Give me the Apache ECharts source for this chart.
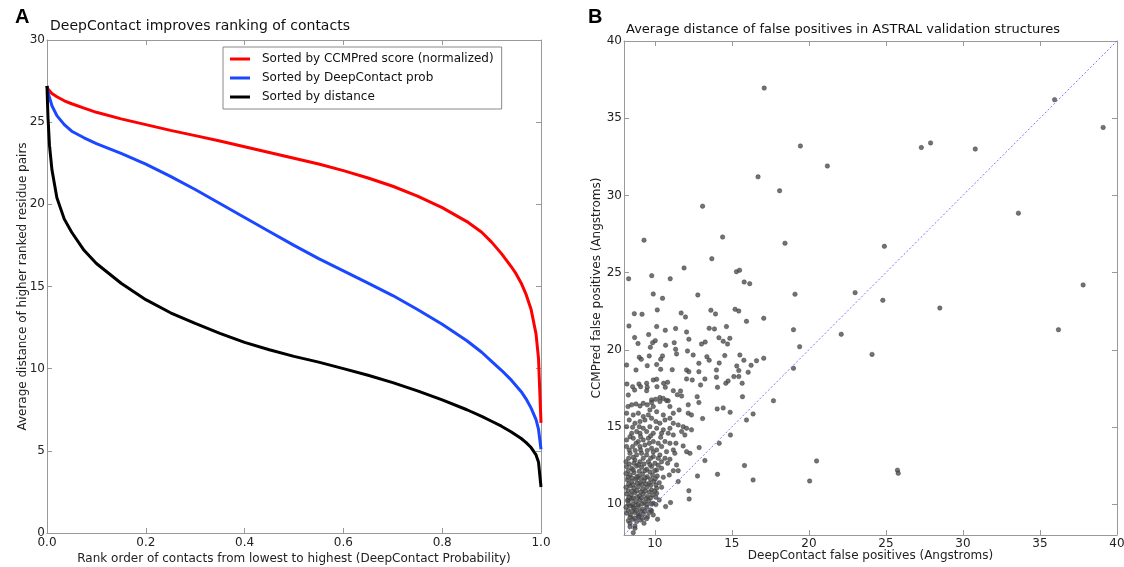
<!DOCTYPE html>
<html>
<head>
<meta charset="utf-8">
<script src="https://cdn.jsdelivr.net/npm/echarts@6/dist/echarts.min.js"></script>
<style>
  html, body { margin: 0; padding: 0; background: #fff; }
  #main { width: 1124px; height: 567px; }
</style>
</head>
<body>
<div id="main"></div>
<script>
// panel A: rank order (x) and average distance of the three sortings
var rankOrder = [0, 0.001, 0.002, 0.005, 0.01, 0.02, 0.035, 0.05, 0.075, 0.1, 0.15, 0.2, 0.25, 0.3, 0.35, 0.4, 0.45, 0.5, 0.55, 0.6, 0.65, 0.7, 0.75, 0.8, 0.85, 0.88, 0.9, 0.92, 0.94, 0.95, 0.96, 0.97, 0.98, 0.99, 0.995, 1.0];
var byCcmpred = [27.2, 27.1, 27.02, 26.9, 26.75, 26.55, 26.3, 26.12, 25.85, 25.6, 25.2, 24.85, 24.5, 24.18, 23.85, 23.5, 23.15, 22.8, 22.45, 22.05, 21.6, 21.1, 20.5, 19.8, 18.95, 18.3, 17.7, 17.0, 16.2, 15.75, 15.2, 14.5, 13.6, 12.1, 10.6, 6.7];
var byDeepContact = [27.2, 27.0, 26.85, 26.5, 26.0, 25.4, 24.85, 24.45, 24.05, 23.7, 23.1, 22.45, 21.7, 20.9, 20.05, 19.2, 18.35, 17.5, 16.7, 15.95, 15.2, 14.45, 13.6, 12.7, 11.7, 11.0, 10.45, 9.9, 9.3, 8.95, 8.6, 8.15, 7.6, 6.9, 6.3, 5.1];
var byDistance = [27.2, 26.2, 25.3, 23.6, 22.1, 20.4, 19.1, 18.3, 17.2, 16.4, 15.2, 14.2, 13.4, 12.75, 12.15, 11.6, 11.15, 10.75, 10.4, 10.0, 9.6, 9.15, 8.65, 8.1, 7.5, 7.1, 6.8, 6.5, 6.15, 5.95, 5.75, 5.5, 5.2, 4.75, 4.3, 2.8];

// panel B: [DeepContact FP distance, CCMPred FP distance] per structure
var falsePositives = [
  [17.1, 36.95], [19.45, 33.2], [21.2, 31.9], [16.7, 31.2], [18.1, 30.3], [13.1, 29.3],
  [9.3, 27.1], [14.4, 27.3], [18.45, 26.9], [13.7, 25.9], [11.9, 25.3], [15.3, 25.06],
  [15.5, 25.15], [8.3, 24.6], [9.8, 24.8], [11.0, 24.6], [35.95, 36.2], [39.1, 34.4],
  [27.3, 33.1], [27.9, 33.4], [30.8, 33.0], [33.6, 28.85], [24.9, 26.7], [24.8, 23.2],
  [28.5, 22.7], [37.8, 24.2], [36.2, 21.3], [23.0, 23.7], [22.1, 21.0], [24.1, 19.7],
  [19.4, 20.2], [19.0, 18.8], [19.0, 21.3], [19.1, 23.6], [17.7, 16.7], [20.5, 12.8],
  [20.05, 11.5], [25.75, 12.2], [25.8, 12.0],
  [15.8, 24.39], [16.16, 24.28], [9.9, 23.61], [10.5, 23.33], [12.79, 23.55],
  [8.67, 22.34], [9.17, 22.3], [10.16, 22.58], [11.71, 22.38], [11.99, 22.12], [13.64, 22.56],
  [13.94, 22.32], [15.21, 22.62], [15.45, 22.51], [15.95, 21.84], [17.07, 22.04], [8.32, 21.54],
  [10.12, 21.5], [10.68, 21.26], [11.35, 21.37], [12.06, 21.15], [13.53, 21.39], [13.87, 21.35],
  [14.65, 21.5], [8.69, 20.79], [8.91, 20.4], [9.6, 20.98], [9.86, 20.46], [9.71, 20.16],
  [10.03, 20.59], [10.7, 20.29], [11.26, 20.46], [12.21, 20.68], [13.03, 20.37], [13.27, 20.5],
  [14.16, 20.78], [14.44, 20.55], [14.87, 20.74], [14.72, 20.37], [8.99, 19.51], [9.12, 19.38],
  [9.64, 19.6], [10.5, 19.6], [10.38, 19.38], [11.35, 20.03], [11.41, 19.73], [12.12, 19.92],
  [12.49, 19.66], [12.86, 19.12], [13.38, 19.55], [13.53, 19.32], [14.18, 19.14], [14.54, 19.62],
  [15.52, 19.66], [15.78, 19.32], [16.6, 19.29], [17.07, 19.45], [8.17, 19.01], [8.78, 18.69],
  [9.51, 18.97], [10.12, 19.04], [10.38, 18.73], [11.13, 18.71], [12.06, 18.69], [12.21, 18.58],
  [12.86, 18.58], [14.0, 18.69], [15.32, 18.95], [15.45, 18.65], [16.06, 18.54], [16.25, 18.99],
  [8.19, 17.78], [8.56, 17.61], [8.69, 17.39], [8.97, 17.78], [9.08, 17.61], [9.47, 17.83],
  [9.51, 17.57], [9.47, 17.35], [9.9, 18.04], [10.12, 18.09], [10.57, 17.83], [10.68, 17.57],
  [10.14, 17.61], [10.83, 17.89], [11.2, 17.35], [11.46, 17.09], [11.67, 17.33], [12.06, 18.11],
  [12.43, 18.04], [12.97, 17.72], [13.25, 18.11], [14.0, 18.22], [14.07, 17.57], [14.61, 17.83],
  [14.76, 17.98], [15.13, 18.26], [15.45, 18.26], [15.67, 17.83], [8.28, 17.07], [9.79, 16.75],
  [10.05, 16.79], [10.33, 16.9], [10.55, 16.85], [10.76, 16.72], [11.74, 17.0], [12.75, 16.96],
  [15.69, 16.96],
  [8.5, 16.43], [8.78, 16.49], [9.04, 16.36], [9.25, 16.53], [9.51, 16.43], [9.79, 16.58],
  [9.9, 16.32], [10.33, 16.64], [10.87, 16.69], [10.98, 16.32], [11.58, 16.1], [12.17, 16.43],
  [12.86, 16.58], [14.05, 16.17], [14.44, 16.23], [14.89, 15.95], [16.38, 15.84], [15.95, 15.45],
  [12.17, 15.89], [12.38, 15.78], [13.1, 15.54], [11.2, 15.89], [10.55, 15.78], [10.12, 15.99],
  [9.68, 16.1], [8.6, 15.78], [8.93, 15.89], [9.25, 15.67], [9.58, 15.78],
  [8.34, 15.45], [8.71, 15.24], [9.04, 15.35], [9.36, 15.45], [9.79, 15.56], [10.07, 15.35],
  [10.33, 15.24], [10.66, 15.45], [10.98, 15.56], [11.2, 15.24], [11.52, 15.13], [11.84, 15.02],
  [11.74, 14.7], [12.06, 14.91], [12.38, 14.81], [10.98, 14.91], [10.55, 14.81], [10.12, 14.91],
  [9.68, 15.02], [9.25, 14.91], [8.82, 14.7], [8.5, 14.59], [9.04, 14.59], [9.47, 14.7],
  [9.9, 14.59], [10.44, 14.59], [10.87, 14.59], [11.2, 14.48], [11.95, 14.48], [14.91, 14.48],
  [14.18, 13.94], [12.88, 13.66], [11.37, 13.94], [11.84, 13.77],
  [8.17, 14.16], [8.6, 14.27], [8.93, 14.05], [9.25, 14.16], [9.58, 14.27], [9.9, 14.05],
  [10.22, 13.94], [10.66, 14.05], [10.98, 13.94], [8.56, 13.73], [9.04, 13.73], [9.36, 13.83],
  [9.79, 13.62], [10.12, 13.51], [10.44, 13.73], [10.76, 13.4], [11.2, 13.51], [12.06, 13.4],
  [12.28, 13.29], [11.3, 13.29], [8.39, 13.29], [8.82, 13.19], [9.14, 13.29], [9.47, 13.19],
  [9.9, 13.08], [10.33, 13.19], [10.66, 12.97], [10.98, 12.91], [8.13, 12.75], [8.71, 12.86],
  [9.04, 12.75], [9.58, 12.75], [10.01, 12.65], [10.44, 12.75], [10.83, 12.65], [13.25, 12.82],
  [11.41, 12.54], [11.2, 12.17], [11.52, 12.17], [10.94, 11.89], [11.52, 11.46], [12.77, 11.82],
  [14.07, 11.93], [15.82, 12.5], [16.38, 11.57], [12.21, 10.87], [12.23, 10.33], [11.02, 10.1],
  [10.7, 9.84], [10.18, 9.02], [9.79, 9.56], [9.3, 8.76], [8.71, 8.43], [8.39, 8.76],
  [8.93, 9.3], [8.28, 10.27], [8.6, 9.84],
  [8.17, 12.43], [8.5, 12.32], [8.82, 12.47], [9.14, 12.39], [9.47, 12.26], [9.79, 12.43],
  [10.12, 12.21], [10.44, 12.32], [8.13, 11.99], [8.39, 11.89], [8.65, 12.04], [8.93, 11.82],
  [9.21, 11.95], [9.51, 11.78], [9.86, 11.89], [10.16, 11.82], [10.55, 11.74], [8.22, 11.57],
  [8.5, 11.46], [8.78, 11.61], [9.04, 11.39], [9.3, 11.52], [9.64, 11.35], [9.94, 11.46],
  [10.29, 11.39], [8.13, 11.09], [8.39, 11.18], [8.65, 11.03], [8.93, 11.13], [9.21, 10.96],
  [9.47, 11.09], [9.79, 10.92], [10.12, 11.03], [10.44, 11.09], [8.17, 10.66], [8.45, 10.59],
  [8.71, 10.74], [8.99, 10.53], [9.25, 10.66], [9.53, 10.49], [9.84, 10.59], [10.12, 10.7],
  [8.22, 10.23], [8.5, 10.31], [8.78, 10.16], [9.04, 10.27], [9.32, 10.1], [9.6, 10.23],
  [9.9, 10.05], [10.29, 10.27], [8.13, 9.8], [8.39, 9.88], [8.65, 9.73], [8.93, 9.84],
  [9.19, 9.67], [9.47, 9.8], [9.73, 9.62], [8.17, 9.41], [8.43, 9.3], [8.71, 9.45],
  [8.99, 9.23], [9.25, 9.36], [9.53, 9.19], [9.9, 9.3], [8.28, 8.93], [8.56, 9.02],
  [8.82, 8.87], [9.08, 8.97], [8.39, 8.54], [8.71, 8.59], [8.6, 8.15],
  [8.28, 12.17], [8.6, 12.21], [8.99, 12.13], [9.36, 12.17], [9.68, 12.08], [9.99, 12.17],
  [8.26, 11.74], [8.52, 11.7], [8.82, 11.74], [9.08, 11.67], [9.38, 11.7], [9.73, 11.61],
  [10.03, 11.65], [8.3, 11.31], [8.6, 11.26], [8.86, 11.35], [9.17, 11.26], [9.42, 11.31],
  [9.73, 11.22], [10.07, 11.24], [8.26, 10.87], [8.52, 10.83], [8.82, 10.87], [9.08, 10.79],
  [9.38, 10.83], [9.64, 10.79], [9.99, 10.83], [8.32, 10.44], [8.6, 10.4], [8.86, 10.44],
  [9.14, 10.4], [9.42, 10.36], [9.73, 10.4], [10.07, 10.44], [8.3, 10.01], [8.6, 10.01],
  [8.91, 9.97], [9.17, 10.01], [9.47, 9.97], [9.77, 10.01], [10.07, 9.97], [8.26, 9.58],
  [8.52, 9.54], [8.82, 9.58], [9.08, 9.54], [9.38, 9.54], [9.64, 9.45], [8.39, 9.15],
  [8.69, 9.1], [8.95, 9.15], [9.21, 9.08], [9.47, 9.06],
  [8.34, 12.6], [8.65, 12.65], [8.95, 12.56], [9.3, 12.6], [9.68, 12.56], [10.22, 12.52],
  [8.34, 13.51], [8.73, 13.47], [9.08, 13.51], [9.51, 13.47], [9.9, 13.38], [8.17, 13.73],
  [8.3, 12.97], [8.6, 13.03], [9.25, 12.97], [9.73, 12.97], [10.22, 12.97],
  [8.39, 14.37], [9.08, 14.37], [9.73, 14.42], [10.38, 14.33], [8.78, 13.94], [9.64, 13.94],
  [8.17, 15.02], [8.56, 14.98], [8.99, 15.02], [8.17, 15.89], [8.26, 16.32]
];
var diagonal = [[8, 8], [40, 40]];

var fontFamily = '"DejaVu Sans", sans-serif';
var frameColor = '#999';
var chart = echarts.init(document.getElementById('main'));

function frameAxis(grid, pos, min, max, extra) {
    var axis = {
        gridIndex: grid,
        type: 'value',
        position: pos,
        min: min,
        max: max,
        nameMoveOverlap: false,
        axisLine: { show: true, onZero: false, lineStyle: { color: frameColor, width: 1 } },
        axisTick: { show: true, inside: true, length: 5, lineStyle: { color: frameColor } },
        axisLabel: { show: false },
        splitLine: { show: false }
    };
    for (var k in extra) axis[k] = extra[k];
    return axis;
}

var nameStyle = { color: '#222', fontSize: 12, fontFamily: fontFamily };
var bTicks = [10, 15, 20, 25, 30, 35, 40];

var option = {
    animation: false,
    backgroundColor: '#fff',
    textStyle: { fontFamily: fontFamily },
    title: [
        { text: 'A', left: 10, top: 2, textStyle: { fontSize: 20, fontWeight: 'bold', color: '#000', fontFamily: 'Liberation Sans, sans-serif' } },
        { text: 'DeepContact improves ranking of contacts', left: 45, top: 14, textStyle: { fontSize: 14, fontWeight: 'normal', color: '#111', fontFamily: fontFamily } },
        { text: 'B', left: 583, top: 2, textStyle: { fontSize: 20, fontWeight: 'bold', color: '#000', fontFamily: 'Liberation Sans, sans-serif' } },
        { text: 'Average distance of false positives in ASTRAL validation structures', left: 621, top: 18, textStyle: { fontSize: 13, fontWeight: 'normal', color: '#111', fontFamily: fontFamily } }
    ],
    legend: {
        left: 223,
        top: 47,
        orient: 'vertical',
        icon: 'rect',
        itemWidth: 20,
        itemHeight: 3,
        itemGap: 7,
        padding: [6, 8, 6, 7],
        borderColor: '#888',
        borderWidth: 1,
        borderRadius: 0,
        textStyle: { fontSize: 12, color: '#111', fontFamily: fontFamily, padding: [0, 0, 0, 7] },
        data: ['Sorted by CCMPred score (normalized)', 'Sorted by DeepContact prob', 'Sorted by distance']
    },
    grid: [
        { left: 47, right: 583, top: 40, bottom: 34, outerBoundsMode: 'none', containLabel: false },
        { left: 624, right: 7, top: 41, bottom: 32, outerBoundsMode: 'none', containLabel: false }
    ],
    xAxis: [
        frameAxis(0, 'bottom', 0, 1, {
            interval: 0.2,
            axisLabel: { show: true, color: '#222', fontSize: 12, fontFamily: fontFamily, margin: 4,
                formatter: function (v) { return v.toFixed(1); } },
            name: 'Rank order of contacts from lowest to highest (DeepContact Probability)',
            nameLocation: 'middle',
            nameGap: 20,
            nameTextStyle: nameStyle
        }),
        frameAxis(0, 'top', 0, 1, { interval: 0.2 }),
        frameAxis(1, 'bottom', 8, 40, {
            axisTick: { show: true, inside: true, length: 5, lineStyle: { color: frameColor }, customValues: bTicks },
            axisLabel: { show: true, color: '#222', fontSize: 12, fontFamily: fontFamily, margin: 3, customValues: bTicks },
            name: 'DeepContact false positives (Angstroms)',
            nameLocation: 'middle',
            nameGap: 15,
            nameTextStyle: nameStyle
        }),
        frameAxis(1, 'top', 8, 40, {
            axisTick: { show: true, inside: true, length: 5, lineStyle: { color: frameColor }, customValues: bTicks }
        })
    ],
    yAxis: [
        frameAxis(0, 'left', 0, 30, {
            interval: 5,
            axisLabel: { show: true, color: '#222', fontSize: 12, fontFamily: fontFamily, margin: 2 },
            name: 'Average distance of higher ranked residue pairs',
            nameLocation: 'middle',
            nameGap: 18,
            nameTextStyle: nameStyle
        }),
        frameAxis(0, 'right', 0, 30, { interval: 5 }),
        frameAxis(1, 'left', 8, 40, {
            axisTick: { show: true, inside: true, length: 5, lineStyle: { color: frameColor }, customValues: bTicks },
            axisLabel: { show: true, color: '#222', fontSize: 12, fontFamily: fontFamily, margin: 2, customValues: bTicks },
            name: 'CCMPred false positives (Angstroms)',
            nameLocation: 'middle',
            nameGap: 21,
            nameTextStyle: nameStyle
        }),
        frameAxis(1, 'right', 8, 40, {
            axisTick: { show: true, inside: true, length: 5, lineStyle: { color: frameColor }, customValues: bTicks }
        })
    ],
    series: [
        {
            name: 'Sorted by CCMPred score (normalized)',
            type: 'line', xAxisIndex: 0, yAxisIndex: 0,
            showSymbol: false,
            color: '#ff0000', lineStyle: { width: 3, color: '#ff0000' },
            data: rankOrder.map(function (x, i) { return [x, byCcmpred[i]]; })
        },
        {
            name: 'Sorted by DeepContact prob',
            type: 'line', xAxisIndex: 0, yAxisIndex: 0,
            showSymbol: false,
            color: '#1a47ff', lineStyle: { width: 3, color: '#1a47ff' },
            data: rankOrder.map(function (x, i) { return [x, byDeepContact[i]]; })
        },
        {
            name: 'Sorted by distance',
            type: 'line', xAxisIndex: 0, yAxisIndex: 0,
            showSymbol: false,
            color: '#000000', lineStyle: { width: 3, color: '#000000' },
            data: rankOrder.map(function (x, i) { return [x, byDistance[i]]; })
        },
        {
            type: 'line', xAxisIndex: 2, yAxisIndex: 2,
            showSymbol: false, silent: true,
            lineStyle: { width: 1, color: '#7878ff', type: [2, 2] },
            data: diagonal
        },
        {
            type: 'scatter', xAxisIndex: 2, yAxisIndex: 2,
            symbolSize: 4.5,
            itemStyle: { color: '#505050', borderColor: '#333', borderWidth: 0.5 },
            data: falsePositives
        }
    ]
};
chart.setOption(option);
</script>
</body>
</html>
